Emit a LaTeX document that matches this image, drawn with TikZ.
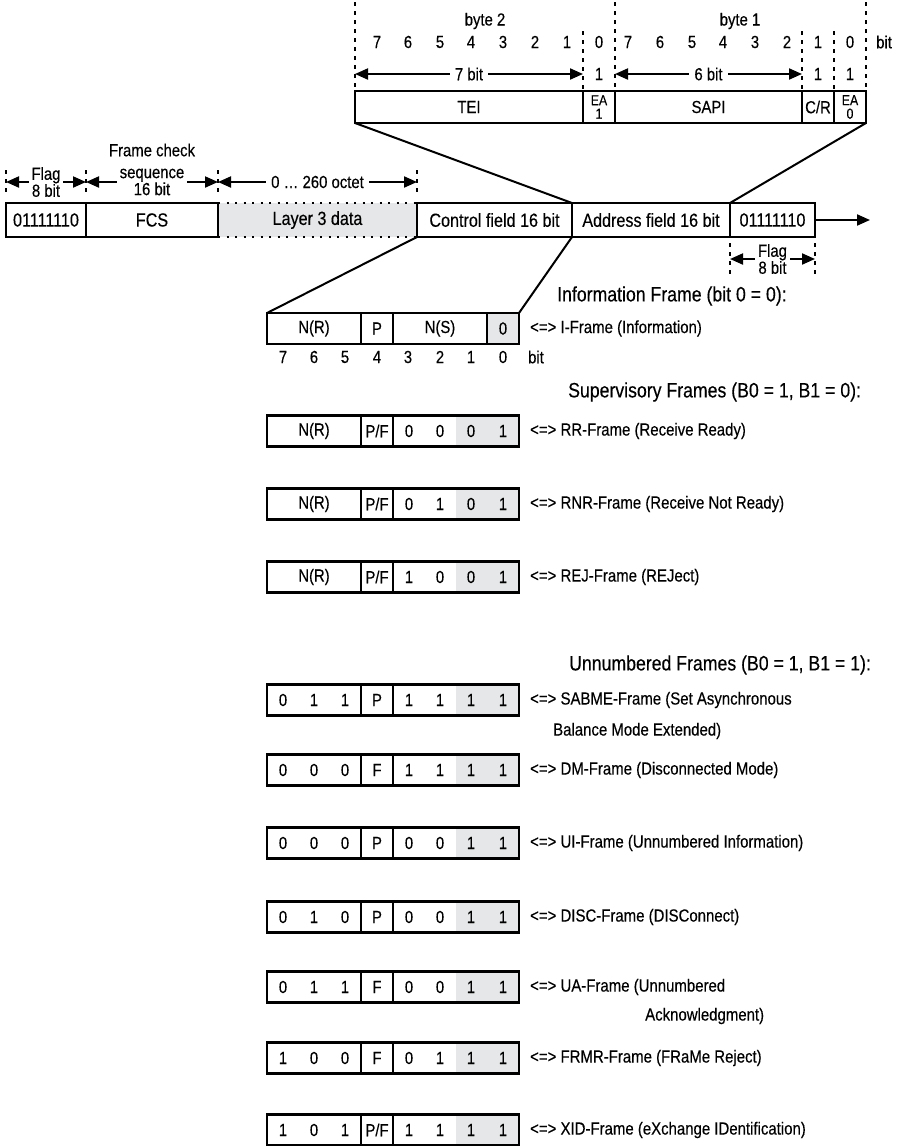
\documentclass[tikz,border=0pt]{standalone}
\usepackage{fontspec}
\setmainfont{Liberation Sans}[FakeStretch=0.85,FakeBold=0.3]
\usetikzlibrary{arrows.meta}
\definecolor{shade}{RGB}{230,231,232}
\newcommand\fsz[1]{\fontsize{#1}{#1}\selectfont}
% supervisory frame: name, y, b3, b2, label
\newcommand\sframe[5]{%
  \node[shadebox] (#1-sh) at (487.5,#2) {};
  \node[cell, minimum width=94pt] (#1-nr) at (314,#2) {N(R)};
  \node[cell, minimum width=32pt] (#1-pf) at (377,#2) {P/F};
  \node[cell, minimum width=126pt] (#1-bits) at (456,#2) {};
  \node[celltxt] (#1-d3) at (409,#2) {#3};
  \node[celltxt] (#1-d2) at (440,#2) {#4};
  \node[celltxt] (#1-d1) at (471,#2) {0};
  \node[celltxt] (#1-d0) at (503,#2) {1};
  \node[lab] (#1-lab) at (530,#2) {<=> #5};
}
% unnumbered frame: name, y, b7, b6, b5, pf, b3, b2, label
\newcommand\uframe[9]{%
  \node[shadebox] (#1-sh) at (487.5,#2) {};
  \node[cell, minimum width=94pt] (#1-hi) at (314,#2) {};
  \node[cell, minimum width=32pt] (#1-pf) at (377,#2) {#6};
  \node[cell, minimum width=126pt] (#1-bits) at (456,#2) {};
  \node[celltxt] (#1-d7) at (283,#2) {#3};
  \node[celltxt] (#1-d6) at (314,#2) {#4};
  \node[celltxt] (#1-d5) at (345,#2) {#5};
  \node[celltxt] (#1-d3) at (409,#2) {#7};
  \node[celltxt] (#1-d2) at (440,#2) {#8};
  \node[celltxt] (#1-d1) at (471,#2) {1};
  \node[celltxt] (#1-d0) at (503,#2) {1};
  \node[lab] (#1-lab) at (530,#2) {<=> #9};
}
\begin{document}
\begin{tikzpicture}[x=1pt,y=-1pt,
  cell/.style={draw, line width=2.2pt, inner sep=0pt, outer sep=0pt, minimum height=31pt, font=\fsz{17.5}},
  mainbox/.style={draw, line width=2.2pt, inner sep=0pt, outer sep=0pt, minimum height=34pt, font=\fsz{19}},
  shadebox/.style={fill=shade, inner sep=0pt, outer sep=0pt, minimum width=63pt, minimum height=31pt},
  celltxt/.style={inner sep=0pt, font=\fsz{17.5}},
  txt/.style={inner sep=0pt, font=\fsz{17.5}},
  lab/.style={inner sep=0pt, anchor=west, font=\fsz{17.6}},
  hdr/.style={inner sep=0pt, anchor=west, font=\fsz{20.8}},
  guide/.style={line width=2pt, dash pattern=on 4pt off 5pt},
  dotline/.style={line width=2.5pt, dash pattern=on 2.2pt off 6.3pt},
  conn/.style={line width=2pt},
  darr/.style={line width=2pt, {Triangle[length=13pt,width=11pt]}-{Triangle[length=13pt,width=11pt]}},
  sarr/.style={line width=2pt, -{Triangle[length=13pt,width=11pt]}},
  dimlbl/.style={fill=white, inner xsep=5pt, inner ysep=1pt, font=\fsz{17.5}},
  dim2/.style={fill=white, inner xsep=3pt, inner ysep=0pt, align=center, font=\fontsize{17.5}{17}\selectfont}
]
\useasboundingbox (0,0) rectangle (904,1146);

% ---------- top: address field detail ----------
\foreach \x in {355,615,866} \draw[guide] (\x,2) -- (\x,91);
\foreach \x in {583,802,834} \draw[guide] (\x,31) -- (\x,91);

\node[txt] (byte2) at (485,21) {byte 2};
\node[txt] (byte1) at (740,21) {byte 1};
\foreach \x/\t [count=\i] in {377/7,408/6,440/5,471/4,503/3,535/2,567/1,599/0,628/7,660/6,692/5,723/4,755/3,787/2,818/1,850/0}
  \node[txt] (tb\i) at (\x,42) {\t};
\node[txt, anchor=west] (tbit) at (876,42) {bit};

\coordinate (a7l) at (355,74); \coordinate (a7r) at (583,74);
\draw[darr] (a7l) -- node[dimlbl] (l7) {7 bit} (a7r);
\node[txt] (one1) at (599,74) {1};
\coordinate (a6l) at (615,74); \coordinate (a6r) at (802,74);
\draw[darr] (a6l) -- node[dimlbl] (l6) {6 bit} (a6r);
\node[txt] (one2) at (818,74) {1};
\node[txt] (one3) at (850,74) {1};

\node[cell, minimum width=228pt, minimum height=32pt] (tei) at (469,107) {TEI};
\node[cell, minimum width=32pt, minimum height=32pt, align=center, font=\fontsize{14.5}{13.5}\selectfont] (ea1) at (599,107) {EA\\1};
\node[cell, minimum width=187pt, minimum height=32pt] (sapi) at (708.5,107) {SAPI};
\node[cell, minimum width=32pt, minimum height=32pt] (cr) at (818,107) {C/R};
\node[cell, minimum width=32pt, minimum height=32pt, align=center, font=\fontsize{14.5}{13.5}\selectfont] (ea0) at (850,107) {EA\\0};

% ---------- main frame row ----------
\foreach \x in {6,86,218,417} \draw[guide] (\x,170) -- (\x,193);
\node[txt] (fcsTitle) at (152,150) {Frame check};
\coordinate (f1l) at (6,182); \coordinate (f1r) at (86,182);
\draw[darr] (f1l) -- node[dim2] (flagA-dim) {Flag\\8 bit} (f1r);
\coordinate (fcl) at (86,182); \coordinate (fcr) at (218,182);
\draw[darr] (fcl) -- node[dim2] (fcs-dim) {sequence\\16 bit} (fcr);
\coordinate (ocl) at (218,182); \coordinate (ocr) at (417,182);
\draw[darr] (ocl) -- node[dimlbl] (oct-dim) {0 \dots\ 260 octet} (ocr);

\node[fill=shade, inner sep=0pt, outer sep=0pt, minimum width=199pt, minimum height=34pt, font=\fsz{19}] (l3) at (317.5,220) {Layer 3 data};
\draw[dotline] (l3.north west) -- (l3.north east);
\draw[dotline] (l3.south west) -- (l3.south east);
\node[mainbox, minimum width=80pt] (flagA) at (46,220) {01111110};
\node[mainbox, minimum width=132pt] (fcs) at (152,220) {FCS};
\node[mainbox, minimum width=155pt] (ctrl) at (494.5,220) {Control field 16 bit};
\node[mainbox, minimum width=158pt] (addr) at (651,220) {Address field 16 bit};
\node[mainbox, minimum width=85pt] (flagB) at (772.5,220) {01111110};
\coordinate (outend) at (870,220);
\draw[sarr] (flagB.east) -- (outend);

\foreach \x in {730,815} \draw[guide] (\x,243) -- (\x,276);
\coordinate (f2l) at (730,259); \coordinate (f2r) at (815,259);
\draw[darr] (f2l) -- node[dim2] (flagB-dim) {Flag\\8 bit} (f2r);

% connectors to top box
\draw[conn] (tei.south west) -- (addr.north west);
\draw[conn] (ea0.south east) -- (addr.north east);

% ---------- information frame ----------
\node[hdr] (hI) at (557,296) {Information Frame (bit 0 = 0):};
\node[cell, minimum width=94pt] (inr) at (314,328.5) {N(R)};
\node[cell, minimum width=32pt] (ip) at (377,328.5) {P};
\node[cell, minimum width=94pt] (ins) at (440,328.5) {N(S)};
\node[cell, minimum width=32pt, fill=shade] (ib0) at (503,328.5) {0};
\node[lab] (ilab) at (530,328.5) {<=> I-Frame (Information)};
\foreach \x/\t [count=\i] in {283/7,314/6,345/5,377/4,408/3,440/2,471/1,503/0}
  \node[txt] (ibit\i) at (\x,357) {\t};
\node[txt] (ibit) at (536,357) {bit};

\draw[conn] (ctrl.south west) -- (inr.north west);
\draw[conn] (ctrl.south east) -- (ib0.north east);

% ---------- supervisory frames ----------
\node[hdr] (hS) at (568,392) {Supervisory Frames (B0 = 1, B1 = 0):};
\sframe{rr}{431}{0}{0}{RR-Frame (Receive Ready)}
\sframe{rnr}{504}{0}{1}{RNR-Frame (Receive Not Ready)}
\sframe{rej}{577}{1}{0}{REJ-Frame (REJect)}

% ---------- unnumbered frames ----------
\node[hdr] (hU) at (569,665) {Unnumbered Frames (B0 = 1, B1 = 1):};
\uframe{sabme}{700}{0}{1}{1}{P}{1}{1}{SABME-Frame (Set Asynchronous}
\node[lab] (sabme-lab2) at (553,731) {Balance Mode Extended)};
\uframe{dm}{770}{0}{0}{0}{F}{1}{1}{DM-Frame (Disconnected Mode)}
\uframe{ui}{843}{0}{0}{0}{P}{0}{0}{UI-Frame (Unnumbered Information)}
\uframe{disc}{917}{0}{1}{0}{P}{0}{0}{DISC-Frame (DISConnect)}
\uframe{ua}{987}{0}{1}{1}{F}{0}{0}{UA-Frame (Unnumbered}
\node[lab] (ua-lab2) at (645,1016) {Acknowledgment)};
\uframe{frmr}{1058}{1}{0}{0}{F}{0}{1}{FRMR-Frame (FRaMe Reject)}
\uframe{xid}{1130}{1}{0}{1}{P/F}{1}{1}{XID-Frame (eXchange IDentification)}
\end{tikzpicture}
\end{document}
